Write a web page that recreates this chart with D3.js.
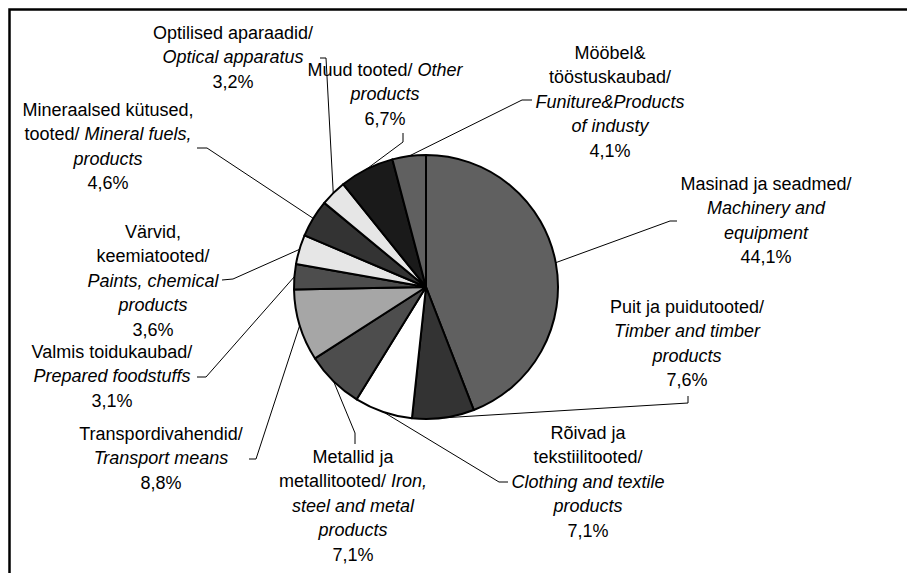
<!DOCTYPE html>
<html>
<head>
<meta charset="utf-8">
<script src="https://cdn.jsdelivr.net/npm/d3@7"></script>
<style>
  body { margin: 0; background: #fff; }
  text { font-family: "Liberation Sans", Arial, sans-serif; font-size: 18px; fill: #000; }
</style>
</head>
<body>
<div id="chart"></div>
<script>
const svgWidth = 907,
      svgHeight = 573;

// data, clockwise from 12 o'clock
const categories = ["Masinad ja seadmed", "Puit ja puidutooted", "Rõivad ja tekstiilitooted",
    "Metallid ja metallitooted", "Transpordivahendid", "Valmis toidukaubad", "Värvid, keemiatooted",
    "Mineraalsed kütused, tooted", "Optilised aparaadid", "Muud tooted", "Mööbel& tööstuskaubad"];
const shares = [44.1, 7.6, 7.1, 7.1, 8.8, 3.1, 3.6, 4.6, 3.2, 6.7, 4.1];

// label text, one entry per line, *...* = italic
const labelLines = [
  ["Masinad ja seadmed/", "*Machinery and*", "*equipment*"],
  ["Puit ja puidutooted/", "*Timber and timber*", "*products*"],
  ["Rõivad ja", "tekstiilitooted/", "*Clothing and textile*", "*products*"],
  ["Metallid ja", "metallitooted/ *Iron,*", "*steel and metal*", "*products*"],
  ["Transpordivahendid/", "*Transport means*"],
  ["Valmis toidukaubad/", "*Prepared foodstuffs*"],
  ["Värvid,", "keemiatooted/", "*Paints, chemical*", "*products*"],
  ["Mineraalsed kütused,", "tooted/ *Mineral fuels,*", "*products*"],
  ["Optilised aparaadid/", "*Optical apparatus*"],
  ["Muud tooted/ *Other*", "*products*"],
  ["Mööbel&", "tööstuskaubad/", "*Funiture&Products*", "*of industy*"]
];

const fills = ["#606060", "#333333", "#ffffff", "#4d4d4d", "#a6a6a6", "#4d4d4d",
               "#e6e6e6", "#333333", "#e6e6e6", "#1a1a1a", "#606060"];

// label layout: centre x, first line y, leader tick start and elbow
const labelPos = [
  {x: 766, y: 184, tick: [677, 221], elbow: [670, 221]},
  {x: 687, y: 307, tick: [688, 396], elbow: [688, 403]},
  {x: 588, y: 433, tick: [508, 482], elbow: [499, 482]},
  {x: 353, y: 457, tick: [355, 444], elbow: [355, 433]},
  {x: 161, y: 434, tick: [249, 459], elbow: [256, 459]},
  {x: 112, y: 352, tick: [197, 377], elbow: [206, 377]},
  {x: 153, y: 232, tick: [222, 280], elbow: [233, 279]},
  {x: 108, y: 110, tick: [197, 148], elbow: [207, 148]},
  {x: 233, y: 33,  tick: [320, 58],  elbow: [326, 58]},
  {x: 385, y: 70,  tick: [403, 133], elbow: [403, 142]},
  {x: 610, y: 53,  tick: [532, 100], elbow: [522, 100]}
];

const cx = 426, cy = 287, radius = 132, lineH = 24.4;
const fmt = v => d3.format(".1f")(v).replace(".", ",") + "%";

let svg = d3.select("#chart")
  .append("svg")
  .attr("width", svgWidth)
  .attr("height", svgHeight);

svg.append("rect")
  .attr("width", svgWidth)
  .attr("height", svgHeight)
  .attr("fill", "#fff");

// frame (top and left edges visible)
svg.append("path")
  .attr("d", "M9.5," + svgHeight + "V9.5H" + svgWidth)
  .attr("fill", "none")
  .attr("stroke", "#000")
  .attr("stroke-width", 2.5);

let pie = d3.pie().sort(null).value(d => d);
let arcs = pie(shares);
let arc = d3.arc().innerRadius(0).outerRadius(radius);
let edge = d3.arc().innerRadius(radius).outerRadius(radius);

let g = svg.append("g")
  .attr("transform", "translate(" + cx + "," + cy + ")");

g.selectAll("path.slice")
  .data(arcs)
  .enter()
  .append("path")
  .attr("class", "slice")
  .attr("d", arc)
  .attr("fill", (d, i) => fills[i])
  .attr("stroke", "#000")
  .attr("stroke-width", 2)
  .attr("stroke-linejoin", "round");

// leader lines
svg.selectAll("polyline.leader")
  .data(arcs)
  .enter()
  .append("polyline")
  .attr("class", "leader")
  .attr("points", (d, i) => {
    let p = edge.centroid(d), lp = labelPos[i];
    return [lp.tick, lp.elbow, [cx + p[0], cy + p[1]]].map(q => q.join(",")).join(" ");
  })
  .attr("fill", "none")
  .attr("stroke", "#000")
  .attr("stroke-width", 1);

// labels
let labels = svg.selectAll("text.label")
  .data(arcs)
  .enter()
  .append("text")
  .attr("class", "label")
  .attr("text-anchor", "middle");

labels.each(function(d, i) {
  let t = d3.select(this), lp = labelPos[i];
  let lines = labelLines[i].concat([fmt(d.data)]);
  lines.forEach((line, k) => {
    let row = t.append("tspan")
      .attr("x", lp.x)
      .attr("y", lp.y + 6 + k * lineH);
    line.split(/(\*[^*]*\*)/).filter(s => s.length).forEach(part => {
      let it = part[0] === "*";
      row.append("tspan")
        .style("font-style", it ? "italic" : "normal")
        .text(it ? part.slice(1, -1) : part);
    });
  });
});
</script>
</body>
</html>
